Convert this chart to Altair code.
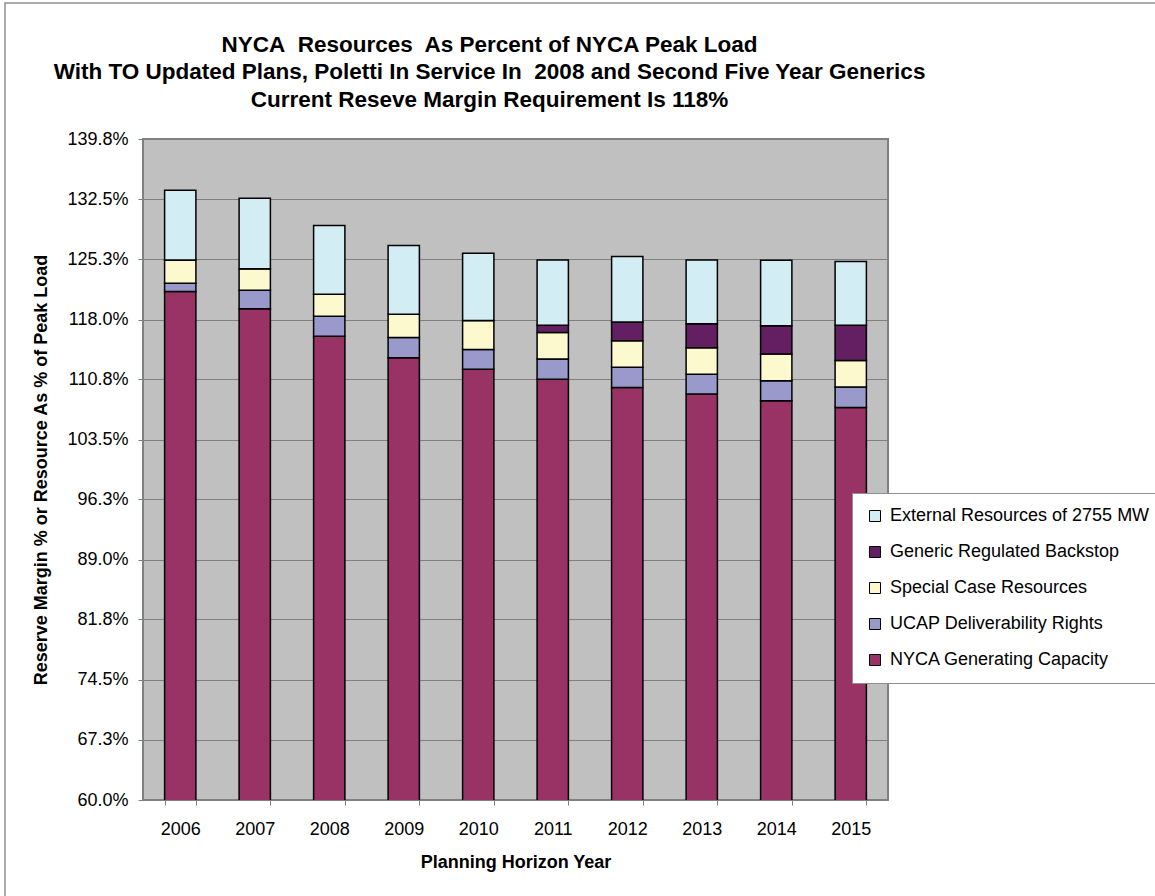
import altair as alt
import pandas as pd

years = ["2006", "2007", "2008", "2009", "2010", "2011", "2012", "2013", "2014", "2015"]
series = [
    "External Resources of 2755 MW",
    "Generic Regulated Backstop",
    "Special Case Resources",
    "UCAP Deliverability Rights",
    "NYCA Generating Capacity",
]
colors = ["#D3EDF4", "#631F62", "#FCF9CF", "#9999CC", "#993366"]

nyca = [121.4, 119.3, 116.0, 113.4, 112.0, 110.8, 109.8, 109.0, 108.2, 107.4]
ucap = [1.0, 2.25, 2.4, 2.45, 2.4, 2.45, 2.45, 2.4, 2.4, 2.45]
special = [2.8, 2.6, 2.65, 2.8, 3.5, 3.2, 3.2, 3.2, 3.25, 3.2]
generic = [0, 0, 0, 0, 0, 0.85, 2.25, 2.9, 3.4, 4.25]
external = [8.4, 8.5, 8.3, 8.3, 8.1, 7.9, 7.9, 7.7, 7.9, 7.7]

y_ticks = [60.0, 67.3, 74.5, 81.8, 89.0, 96.3, 103.5, 110.8, 118.0, 125.3, 132.5, 139.8]

values_by_series = {
    "NYCA Generating Capacity": nyca,
    "UCAP Deliverability Rights": ucap,
    "Special Case Resources": special,
    "Generic Regulated Backstop": generic,
    "External Resources of 2755 MW": external,
}
stack_order = {
    "NYCA Generating Capacity": 0,
    "UCAP Deliverability Rights": 1,
    "Special Case Resources": 2,
    "Generic Regulated Backstop": 3,
    "External Resources of 2755 MW": 4,
}
rows = []
for s, vals in values_by_series.items():
    for y, v in zip(years, vals):
        rows.append({"year": y, "series": s, "value": v, "ord": stack_order[s]})
df = pd.DataFrame(rows)

FONT = "Liberation Sans"

bars = alt.Chart(df).mark_bar(stroke="black", strokeWidth=1.5, clip=True).encode(
    x=alt.X("year:N", sort=years,
            scale=alt.Scale(paddingInner=0.58, paddingOuter=0.29),
            axis=alt.Axis(title="Planning Horizon Year", labelAngle=0, tickBand="extent",
                          labelFontSize=18, labelPadding=15, titleFontSize=18,
                          titleFontWeight="bold", titlePadding=15, tickColor="#808080",
                          tickSize=5, domain=False, grid=False)),
    y=alt.Y("value:Q", stack="zero",
            scale=alt.Scale(domain=[60, 139.8], zero=False, nice=False),
            axis=alt.Axis(title="Reserve Margin % or Resource As % of Peak Load",
                          values=y_ticks, labelExpr="format(datum.value, '.1f') + '%'",
                          labelFontSize=18, labelPadding=10, titleFontSize=18,
                          titleFontWeight="bold", titlePadding=16, tickColor="#808080",
                          tickSize=5, domain=False, grid=True, gridColor="#808080",
                          gridWidth=1)),
    color=alt.Color("series:N", sort=series,
                    scale=alt.Scale(domain=series, range=colors),
                    legend=alt.Legend(title=None, orient="none", legendX=709, legendY=354,
                                      symbolType="square", symbolSize=121,
                                      symbolStrokeColor="black", symbolStrokeWidth=1,
                                      labelFontSize=18, labelOffset=6, rowPadding=18,
                                      padding=14, fillColor="white", strokeColor="#909090",
                                      labelLimit=500)),
    order=alt.Order("ord:Q", sort="ascending"),
)

frame = alt.Chart(pd.DataFrame({"a": [0]})).mark_rect(
    fill=None, stroke="#909090", strokeWidth=1.5
).encode(
    x=alt.value(-138), x2=alt.value(1030), y=alt.value(-136), y2=alt.value(770)
)

chart = alt.layer(frame, bars).properties(
    width=745,
    height=661,
    autosize=alt.AutoSizeParams(type="none"),
    padding={"left": 143, "top": 139, "right": 267, "bottom": 96},
    title=alt.Title(
        ["NYCA\u00a0 Resources\u00a0 As Percent of NYCA Peak Load",
         "With TO Updated Plans, Poletti In Service In\u00a0 2008 and Second Five Year Generics",
         "Current Reseve Margin Requirement Is 118%"],
        fontSize=22.5, fontWeight="bold", font=FONT, lineHeight=27.5, anchor="middle",
        frame="group", dx=-26, offset=-109, color="black"),
).configure(
    font=FONT,
    background="white",
).configure_view(
    fill="#C0C0C0", stroke="#808080", strokeWidth=2
).configure_axis(
    labelFont=FONT, titleFont=FONT, labelColor="black", titleColor="black"
).configure_legend(
    labelFont=FONT, labelColor="black"
)

chart.save("out.html", embed_options={"renderer": "svg", "actions": False})
